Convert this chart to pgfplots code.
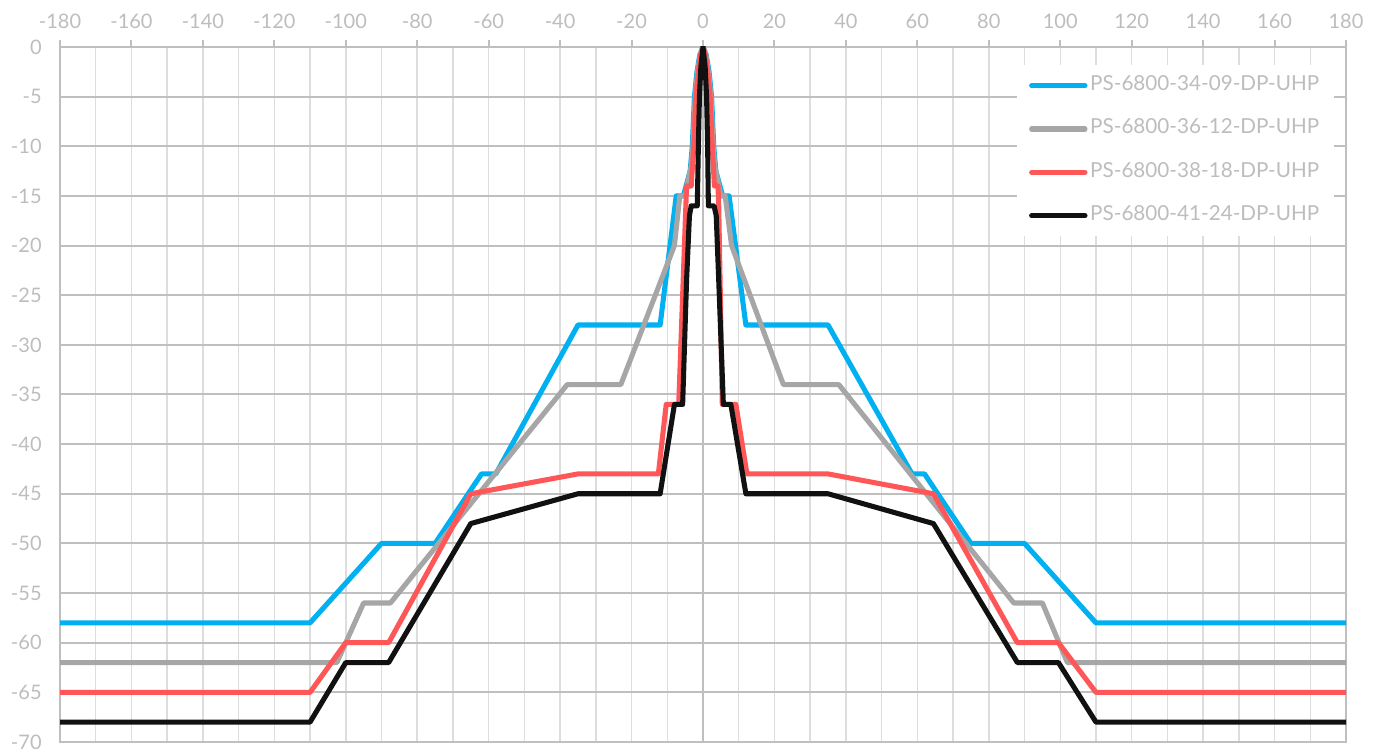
\documentclass[border=0pt]{standalone}
\usepackage{pgfplots}
\pgfplotsset{compat=1.18}
\usepackage{fontspec}
\setmainfont{Lato}

\definecolor{cBlue}{HTML}{00B0F0}
\definecolor{cGray}{HTML}{A6A6A6}
\definecolor{cRed}{HTML}{FF5757}
\definecolor{cBlack}{HTML}{111111}
\definecolor{gridDark}{HTML}{BFBFBF}
\definecolor{gridLight}{HTML}{DDDDDD}
\definecolor{txt}{HTML}{BDBDBD}

\begin{document}
\begin{tikzpicture}
\begin{axis}[
  name=ax,
  scale only axis, width=964.5pt, height=521.25pt,
  xmin=-180, xmax=180, ymin=-70, ymax=0,
  xtick={-180,-160,...,180}, ytick={-70,-65,...,0},
  minor x tick num=1,
  xtick pos=upper, xticklabel pos=upper,
  tick align=outside, major tick length=5.25pt, minor tick length=0pt,
  x tick style={draw=gridDark, line width=1.5pt},
  y tick style={draw=none},
  axis line style={draw=gridDark, line width=1.5pt},
  xmajorgrids, xminorgrids, ymajorgrids,
  major x grid style={draw=gridLight, line width=1.1pt},
  minor x grid style={draw=gridLight, line width=1.1pt},
  major y grid style={draw=gridDark, line width=1.5pt},
  extra x ticks={0}, extra x tick labels={},
  extra x tick style={major tick length=0pt, major x grid style={draw=gridDark, line width=1.8pt}},
  /pgf/number format/assume math mode=true,
  tick label style={font=\fontsize{15}{15}\selectfont, text=txt},
  xticklabel style={yshift=4.75pt},
  yticklabel style={xshift=-5pt},
  legend style={at={(0.9907,0.974)}, anchor=north east, draw=none, fill=white,
    font=\fontsize{15.5}{15.5}\selectfont, text=txt,
    inner xsep=9pt, inner ysep=6pt, row sep=14pt,
    nodes={inner sep=2pt, text height=11pt, text depth=3.5pt}},
  legend cell align=left,
  legend image code/.code={\draw[#1, line cap=round] (0pt,0pt) -- (40pt,0pt);},
  every axis plot/.append style={line width=3.8pt, line join=round},
]
\addplot[cBlue] table {
x y
-180 -58
-110 -58
-90 -50
-75 -50
-62 -43
-58 -43
-35 -28
-12 -28
-7.5 -15
-5.5 -15
-3.6 -12.5
-3.0 -10
-2.4 -5
-1.7 -2.5
-0.9 -0.8
0 0
0.9 -0.8
1.7 -2.5
2.4 -5
3.0 -10
3.6 -12.5
5.5 -15
7.3 -15
12 -28
35 -28
58.5 -43
62 -43
75 -50
90 -50
110 -58
180 -58
};
\addplot[cGray] table {
x y
-180 -62
-102.5 -62
-95 -56
-87.5 -56
-38 -34
-23 -34
-8 -20
-6.5 -15
-5 -15
-3.3 -12
-2.8 -10
-2.2 -5
-1.5 -2.5
-0.8 -0.8
0 0
0.8 -0.8
1.5 -2.5
2.2 -5
2.8 -10
3.3 -12
5 -15
6.2 -15
8 -20
22.5 -34
38 -34
87 -56
95 -56
102 -62
180 -62
};
\addplot[cRed] table {
x y
-180 -65
-110 -65
-100 -60
-88 -60
-65 -45
-35 -43
-12.5 -43
-10.3 -36
-6.8 -36
-4.8 -16
-4.6 -14
-3.3 -14
-2.6 -10
-2.0 -5
-1.3 -2.5
-0.7 -0.8
0 0
0.7 -0.8
1.3 -2.5
2.0 -5
2.6 -10
3.2 -14
4.2 -14
4.4 -16
5.4 -36
9.2 -36
12.3 -43
35 -43
64.5 -45
88 -60
99.5 -60
110 -65
180 -65
};
\addplot[cBlack] table {
x y
-180 -68
-110 -68
-100 -62
-88 -62
-65 -48
-35 -45
-12 -45
-8 -36
-5.7 -36
-4.6 -23.5
-3.8 -17
-3.3 -16
-1.6 -16
-1.3 -10
-1.0 -5
-0.6 -2
0 0
0.6 -2
1.0 -5
1.3 -10
1.5 -16
3.1 -16
3.7 -17
4.4 -23.5
5.7 -36
7.8 -36
12 -45
35 -45
64.5 -48
88 -62
99.5 -62
110 -68
180 -68
};
\legend{PS-6800-34-09-DP-UHP, PS-6800-36-12-DP-UHP, PS-6800-38-18-DP-UHP, PS-6800-41-24-DP-UHP}
\end{axis}
\pgfresetboundingbox
\useasboundingbox ([xshift=-45pt,yshift=-7.9pt]ax.south west) rectangle ([xshift=25.5pt,yshift=35.25pt]ax.north east);
\end{tikzpicture}
\end{document}
